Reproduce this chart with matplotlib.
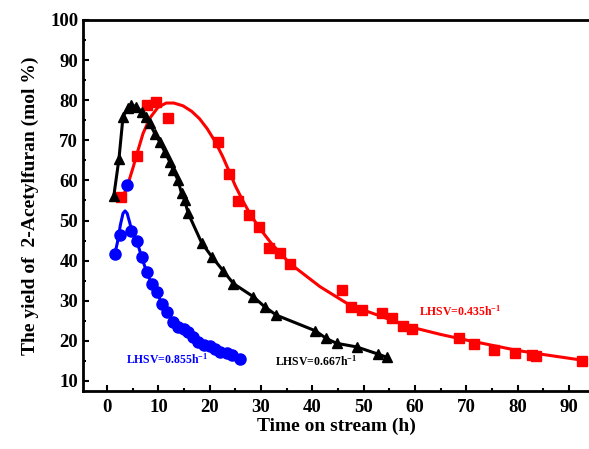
import numpy as np
import matplotlib.pyplot as plt
from matplotlib.ticker import MultipleLocator

plt.rcParams['font.family'] = ['Liberation Serif', 'DejaVu Serif']
plt.rcParams['font.weight'] = 'bold'
plt.rcParams['mathtext.fontset'] = 'custom'
plt.rcParams['mathtext.rm'] = 'Liberation Serif:bold'
plt.rcParams['mathtext.bf'] = 'Liberation Serif:bold'
plt.rcParams['mathtext.default'] = 'bf'

# LHSV = 0.435 h-1 (red squares)
red_x = [2.8, 5.85, 7.7, 9.6, 11.9, 21.6, 23.7, 25.5, 27.6, 29.6, 31.6, 33.7, 35.6,
         45.7, 47.6, 49.6, 53.6, 55.6, 57.6, 59.5, 68.6, 71.5, 75.4, 79.5, 82.7, 83.5, 92.5]
red_y = [55.9, 66.1, 78.8, 79.6, 75.5, 69.5, 61.6, 54.9, 51.4, 48.5, 43.2, 41.8, 39.1,
         32.8, 28.5, 27.7, 26.9, 25.6, 23.8, 23.0, 20.8, 19.1, 17.7, 16.9, 16.5, 16.3, 15.0]
# fitted curve
red_fit_x = [2.8, 3.8, 5.1, 5.85, 7.0, 8.3, 9.9, 11.5, 13.0, 14.8, 16.5, 18.0, 19.5, 21.0,
             22.5, 23.7, 25.0, 26.5, 28.0, 30.0, 32.0, 35.6, 41.5, 47.3, 53.2, 59.0,
             65.0, 70.0, 75.0, 80.0, 85.0, 92.5]
red_fit_y = [55.5, 58.0, 63.4, 66.8, 71.7, 75.5, 78.2, 79.3, 79.3, 78.6, 77.2, 75.4, 72.9, 69.8,
             66.0, 62.5, 58.6, 54.8, 51.3, 47.6, 44.3, 39.3, 33.5, 28.9, 26.2, 23.5,
             21.6, 20.2, 18.9, 17.6, 16.6, 15.2]

# LHSV = 0.667 h-1 (black triangles)
blk_x = [1.3, 2.3, 3.1, 4.0, 4.6, 5.7, 6.7, 7.5, 8.3, 9.3, 10.3, 11.2, 12.2, 12.9, 13.8,
         14.5, 15.1, 15.8, 18.4, 20.5, 22.6, 24.6, 28.5, 30.7, 33.0, 40.6, 42.7, 44.7,
         48.6, 52.8, 54.5]
blk_y = [56.1, 65.3, 75.9, 78.0, 78.8, 78.4, 77.1, 75.8, 74.2, 71.7, 69.5, 67.2, 64.7, 62.6,
         60.1, 56.8, 55.1, 51.8, 44.5, 40.8, 37.5, 34.3, 31.0, 28.5, 26.4, 22.5, 20.6, 19.4,
         18.5, 16.7, 15.9]

# LHSV = 0.855 h-1 (blue circles)
blu_x = [1.5, 2.6, 3.8, 4.75, 5.85, 6.7, 7.7, 8.65, 9.75, 10.6, 11.7, 12.9, 13.8, 14.95,
         15.8, 16.8, 17.7, 18.85, 20.0, 21.0, 22.0, 23.3, 24.25, 25.9]
blu_y = [41.6, 46.4, 58.8, 47.5, 44.8, 41.0, 37.2, 34.2, 32.1, 29.3, 27.3, 24.8, 23.4, 22.9,
         22.3, 20.9, 19.8, 19.0, 18.7, 18.0, 17.3, 16.9, 16.5, 15.6]
blu_fit_x = [1.5, 2.0, 2.6, 3.1, 3.5, 3.9, 4.4, 4.8, 5.85, 6.7, 7.7, 8.65, 9.75, 10.6, 11.7,
             12.9, 13.8, 15.0, 16.8, 18.9, 21.0, 23.3, 25.9]
blu_fit_y = [41.6, 44.5, 49.0, 51.8, 52.4, 51.8, 49.5, 47.5, 44.7, 41.0, 37.2, 34.2, 32.1,
             29.3, 27.3, 24.8, 23.4, 22.7, 20.9, 19.0, 18.0, 16.9, 15.6]

W, H = 589, 449
fig = plt.figure(figsize=(W / 100, H / 100), dpi=100)
ax = fig.add_axes([83 / W, (H - 391) / H, (W - 83) / W, (391 - 20) / H])

ax.plot(red_fit_x, red_fit_y, '-', color='#ff0000', lw=2.2)
ax.plot(red_x, red_y, 's', color='#ff0000', ms=7)
ax.plot(blk_x, blk_y, '-', color='black', lw=2.2)
ax.plot(blk_x, blk_y, '^', color='black', ms=7.5)
ax.plot(blu_fit_x, blu_fit_y, '-', color='#0000ff', lw=2.2)
ax.plot(blu_x, blu_y, 'o', color='#0000ff', ms=8)

sup = r'$^{\mathsf{-1}}$'
plt.rcParams['mathtext.sf'] = 'Liberation Serif:bold'
ax.text(60.8, 27.3, 'LHSV=0.435h' + sup, color='#ff0000', fontsize=8.5, fontweight='bold', va='center')
ax.text(32.7, 15.0, 'LHSV=0.667h' + sup, color='black', fontsize=8.5, fontweight='bold', va='center')
ax.text(3.6, 15.4, 'LHSV=0.855h' + sup, color='#0000ff', fontsize=8.5, fontweight='bold', va='center')

ax.set_xlim(-4.7, 93.9)
ax.set_ylim(7.5, 100)
ax.xaxis.set_major_locator(MultipleLocator(10))
ax.xaxis.set_minor_locator(MultipleLocator(5))
ax.set_yticks(range(10, 101, 10))
ax.yaxis.set_minor_locator(MultipleLocator(5))
ax.tick_params(which='both', direction='in', width=1.5, labelsize=13.5)
ax.tick_params(which='major', length=4)
ax.tick_params(which='minor', length=2)
ax.tick_params(axis='x', pad=6)
ax.spines['right'].set_visible(False)
for s in ['left', 'bottom', 'top']:
    ax.spines[s].set_linewidth(2)

ax.set_xlabel('Time on stream (h)', fontsize=14, fontweight='bold', labelpad=1)
ax.set_ylabel('The yield of  2-Acetylfuran (mol %)', fontsize=14, fontweight='bold', labelpad=8)

fig.savefig('out.png', dpi=100)
